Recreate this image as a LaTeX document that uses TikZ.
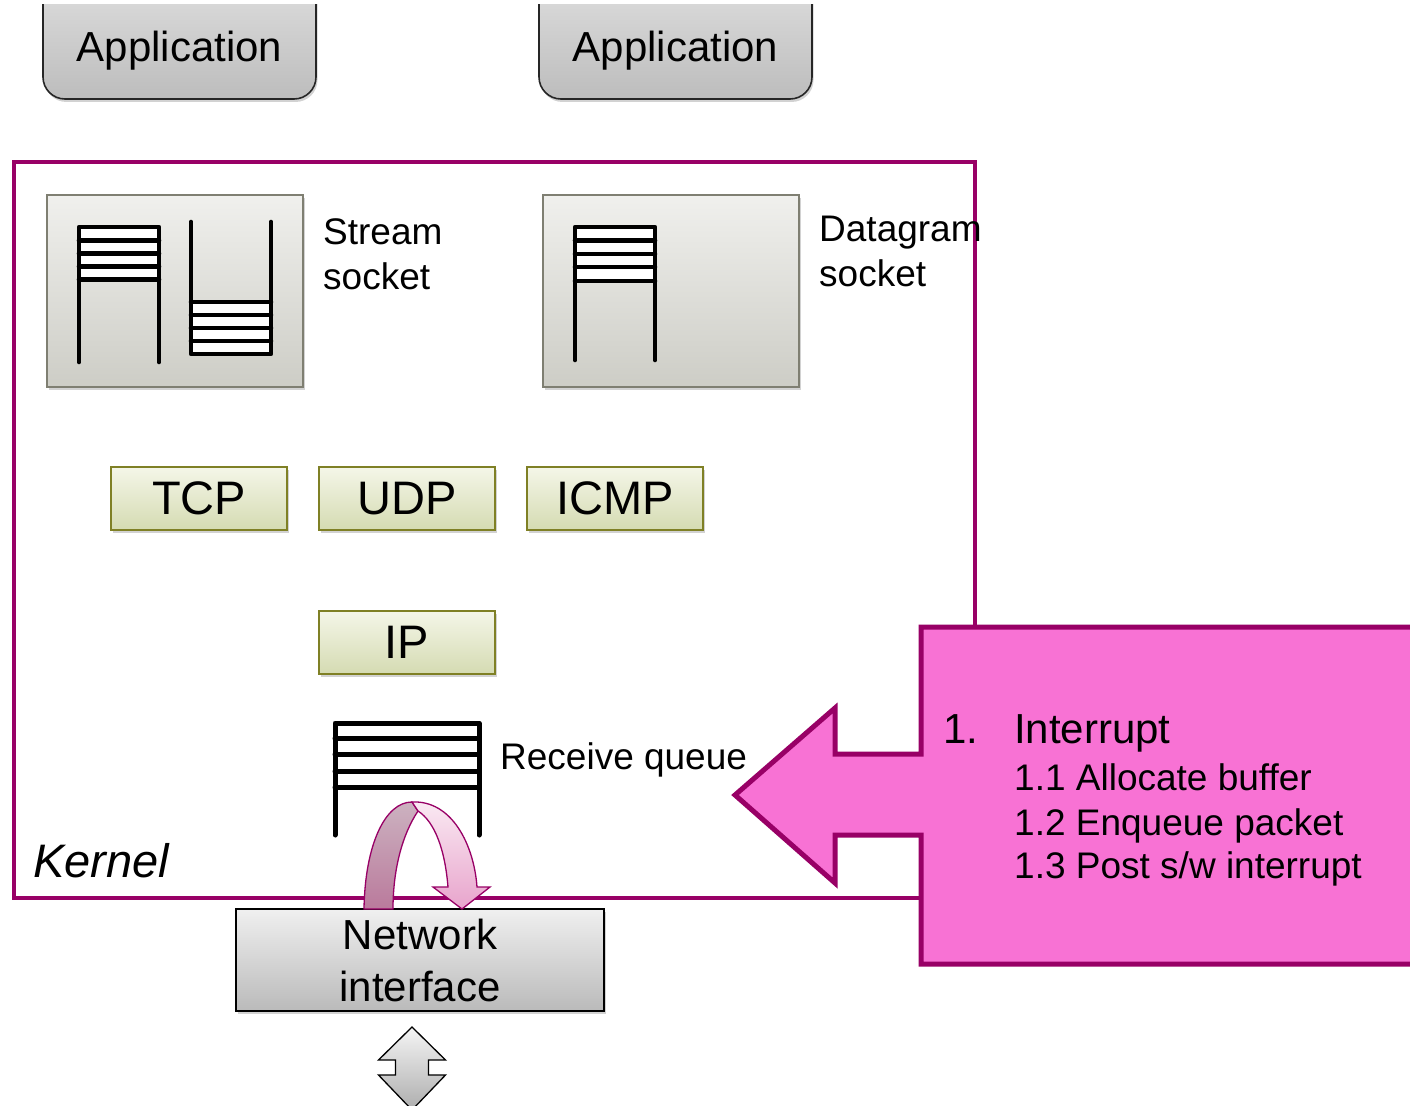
\documentclass[tikz,border=0pt]{standalone}
\usepackage{fontspec}
\setmainfont{Liberation Sans}
\usetikzlibrary{shadows}
\definecolor{kpurple}{RGB}{152,0,102}
\definecolor{kpink}{RGB}{248,114,212}
\definecolor{olive}{RGB}{127,128,37}
\definecolor{sockborder}{RGB}{127,127,114}
\tikzset{
  shad/.style={drop shadow={opacity=0.35,shadow xshift=1.5pt,shadow yshift=-3pt}},
  appbox/.style={draw=black!85,line width=1.6pt,rounded corners=22pt,top color=black!12,bottom color=black!26,shad},
  sockbox/.style={draw=sockborder,line width=1.8pt,top color={rgb,255:red,240;green,240;blue,237},bottom color={rgb,255:red,205;green,205;blue,198},shad},
  protobox/.style={draw=olive,line width=2pt,top color={rgb,255:red,244;green,246;blue,232},bottom color={rgb,255:red,213;green,219;blue,178},minimum width=176pt,minimum height=63pt,inner sep=0pt,font=\fontsize{47}{56}\selectfont,shad},
  nicbox/.style={draw=black,line width=1.6pt,top color=black!6,bottom color=black!27,minimum width=368pt,minimum height=102pt,inner sep=0pt,align=center,font=\fontsize{42}{52}\selectfont,shad},
  txtA/.style={font=\fontsize{42}{50}\selectfont,inner sep=0pt,anchor=base},
  txtB/.style={font=\fontsize{37}{45}\selectfont,inner sep=0pt,anchor=base west},
  txtC/.style={font=\fontsize{42}{50}\selectfont,inner sep=0pt,anchor=base west},
  stk/.style={line width=4.6pt,line cap=round,line join=round},
  kernelbox/.style={draw=kpurple,line width=4pt},
  callout/.style={draw=kpurple,line width=5pt,fill=kpink,line join=miter},
  ribbon/.style={draw=kpurple,line width=1.3pt},
}
\begin{document}
\begin{tikzpicture}[x=1pt,y=-1pt]
\useasboundingbox (0,0) rectangle (1410,1105);
\fill[white] (0,0) rectangle (1410,1105);

% applications (their tops are cut off by the frame)
\begin{scope}
\clip (0,5) rectangle (1410,200);
\node[appbox,minimum width=273pt,minimum height=130pt] (app1) at (179.5,34) {};
\node[appbox,minimum width=273pt,minimum height=130pt] (app2) at (675.5,34) {};
\end{scope}
\node[txtA] (app1t) at (179.5,62) {Application};
\node[txtA] (app2t) at (675.5,62) {Application};

% kernel
\draw[kernelbox] (14,162) rectangle (975,898);
\node[font=\fontsize{47}{56}\selectfont\itshape,inner sep=0pt,anchor=base west] (kern) at (33,877) {Kernel};

% sockets
\node[sockbox,minimum width=256pt,minimum height=192pt] (ssock) at (175,291) {};
\node[sockbox,minimum width=256pt,minimum height=192pt] (dsock) at (671,291) {};
\node[txtB] (sst1) at (323,244) {Stream};
\node[txtB] (sst2) at (323,289) {socket};
\node[txtB] (dst1) at (819,241) {Datagram};
\node[txtB] (dst2) at (819,286) {socket};

% stream socket queues
\fill[white] (79,227) rectangle (159,280);
\draw[stk] (79,362) -- (79,227) -- (159,227) -- (159,362);
\foreach \y in {240.5,253.5,266.5,279.5} \draw[stk] (79,\y) -- (159,\y);
\fill[white] (191,302) rectangle (271,354);
\draw[stk] (191,222) -- (191,354) -- (271,354) -- (271,222);
\foreach \y in {302,315,328,341} \draw[stk] (191,\y) -- (271,\y);
% datagram socket queue
\fill[white] (575,227) rectangle (655,281);
\draw[stk] (575,360) -- (575,227) -- (655,227) -- (655,360);
\foreach \y in {240.5,254,267,281} \draw[stk] (575,\y) -- (655,\y);

% protocols
\node[protobox] (tcp) at (199,498.5) {TCP};
\node[protobox] (udp) at (407,498.5) {UDP};
\node[protobox] (icmp) at (615,498.5) {ICMP};
\node[protobox] (ip) at (407,642.5) {IP};

% receive queue
\draw[stk,line width=5pt] (335,835) -- (335,723) -- (479,723) -- (479,835);
\foreach \y in {738,754,771,787} \draw[stk,line width=5pt] (335,\y) -- (479,\y);
\node[txtB] (rq) at (500,769) {Receive queue};

% network interface
\node[nicbox] (nic) at (420,960) {Network\\interface};

% double arrow below the interface
\path[draw=black,line width=1.3pt,top color=black!4,bottom color=black!32]
  (412,1027) -- (445.5,1060) -- (428.5,1060) -- (428.5,1075) -- (445.5,1075) -- (412,1110)
  -- (378.5,1075) -- (395.5,1075) -- (395.5,1060) -- (378.5,1060) -- cycle;

% curved arrow from the interface into the receive queue
\path[ribbon,top color={rgb,255:red,204;green,178;blue,192},bottom color={rgb,255:red,186;green,122;blue,156}]
  (364,909) .. controls (365,845) and (385,802) .. (412,802) -- (418,811)
  .. controls (402,835) and (393,870) .. (393,909) -- cycle;
\path[ribbon,top color={rgb,255:red,250;green,234;blue,243},bottom color={rgb,255:red,232;green,164;blue,204}]
  (412,802) .. controls (452,800) and (474,845) .. (477,887) -- (490,887) -- (462,909)
  -- (433,887) -- (448,887) .. controls (445,850) and (435,822) .. (418,811) -- cycle;

% callout
\path[callout] (1425,627) -- (921,627) -- (921,754) -- (835,754) -- (835,708) -- (735,795)
  -- (835,883) -- (835,835) -- (921,835) -- (921,964) -- (1425,964) -- cycle;
\node[txtC] (c0) at (943,743) {1.};
\node[txtC] (c1) at (1014,743) {Interrupt};
\node[txtB] (c2) at (1014,790) {1.1 Allocate buffer};
\node[txtB] (c3) at (1014,835) {1.2 Enqueue packet};
\node[txtB] (c4) at (1014,878) {1.3 Post s/w interrupt};
\end{tikzpicture}
\end{document}
